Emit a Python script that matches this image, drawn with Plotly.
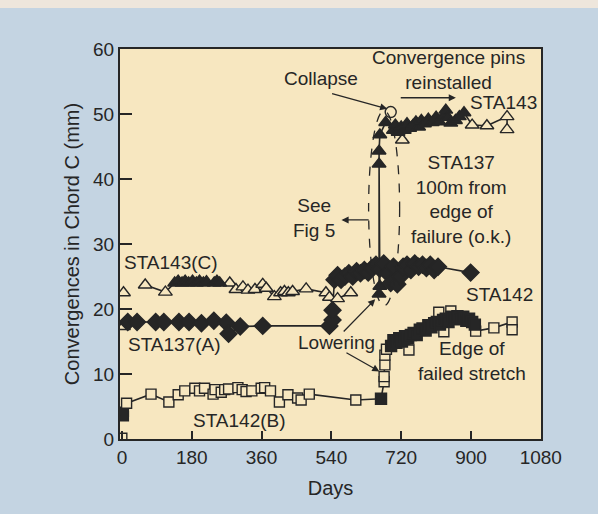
import plotly.graph_objects as go

# ---------------- data (days, convergence mm) ----------------
# STA143 (C) - triangles
sta143_init_days = [4, 4]
sta143_init_vals = [22.5, 17.3]
sta143_open_days = [60, 112, 278, 294, 312, 325, 343, 363, 372, 393, 409, 419, 429, 440, 475, 526, 535, 556, 590]
sta143_open_vals = [23.7, 22.6, 24.0, 23.0, 23.4, 22.9, 23.0, 23.8, 23.2, 21.9, 22.5, 22.7, 22.5, 22.7, 23.1, 22.5, 21.8, 21.6, 22.5]
sta143_fill_days = [136, 145, 155, 163, 172, 182, 192, 200, 210, 218, 238, 245, 252]
sta143_fill_vals = [24.0, 24.3, 24.0, 24.3, 24.0, 24.3, 24.0, 24.3, 24.0, 24.2, 24.0, 24.3, 24.0]
sta143_late_fill_days = [663, 665, 663, 663, 665, 680, 700, 705, 712, 720, 728, 735, 742, 750, 758, 765,
                         772, 780, 790, 800, 810, 818, 828, 835, 840, 848, 860, 870, 882]
sta143_late_fill_vals = [22.3, 23.5, 42.3, 44.3, 46.8, 48.7, 47.5, 48.3, 47.2, 48.0, 47.5, 48.5, 47.8, 48.2, 48.8, 48.0,
                         49.0, 48.5, 49.2, 48.7, 49.5, 48.8, 49.6, 50.6, 49.5, 48.6, 49.0, 49.6, 50.2]
sta143_late_open_days = [723, 903, 941, 993, 993]
sta143_late_open_vals = [46.0, 48.3, 48.2, 49.6, 47.6]

# STA137 (A) - filled diamonds
sta137_days = [15, 39, 87, 108, 147, 173, 205, 237, 269, 275, 305, 363, 535, 543, 543]
sta137_vals = [18.0, 18.0, 18.0, 18.0, 18.0, 18.0, 17.8, 18.2, 17.9, 16.2, 17.3, 17.4, 17.4, 18.3, 19.8]
sta137_late_days = [548, 556, 565, 575, 585, 595, 605, 615, 625, 635, 645, 655, 665, 675, 685, 693, 700,
                    710, 718, 725, 735, 745, 755, 765, 775, 785, 795, 805, 815, 899]
sta137_late_vals = [24.5, 25.2, 24.5, 25.0, 25.5, 25.0, 25.8, 25.5, 26.0, 25.6, 26.3, 26.8, 26.2, 27.0, 25.5, 24.0, 26.5,
                    23.8, 25.0, 26.5, 26.8, 26.0, 27.0, 26.5, 26.8, 26.3, 26.8, 26.0, 26.5, 25.6]

# STA142 (B) - squares
sta142_init_days = [1, 5, 5]
sta142_init_vals = [0.2, 3.5, 4.2]
sta142_open_days = [12, 75, 121, 145, 162, 188, 200, 213, 235, 240, 256, 265, 275, 299, 310, 320, 335, 359,
                    368, 383, 406, 428, 453, 462, 483, 603]
sta142_open_vals = [5.5, 6.9, 5.7, 6.8, 7.4, 7.8, 7.4, 7.8, 6.9, 7.6, 7.2, 7.6, 7.7, 7.9, 7.6, 7.3, 7.4, 7.8,
                    7.9, 7.4, 5.7, 6.8, 6.3, 6.0, 6.9, 6.0]
sta142_late_fill_days = [668, 694, 700, 708, 715, 722, 730, 738, 745, 752, 760, 768, 775, 783, 790, 798, 805,
                         812, 820, 828, 835, 842, 850, 858, 865, 873, 880, 888, 895, 903, 910]
sta142_late_fill_vals = [6.2, 14.3, 15.2, 14.8, 15.5, 15.0, 15.8, 15.5, 16.0, 16.3, 16.0, 16.8, 17.0, 16.7, 17.5, 17.2, 17.8,
                         18.0, 17.6, 18.3, 18.5, 18.0, 18.8, 18.5, 18.9, 18.4, 18.8, 18.2, 18.5, 18.0, 17.6]
sta142_late_open_days = [676, 676, 678, 678, 682, 740, 817, 830, 848, 912, 959, 1006, 1006]
sta142_late_open_vals = [8.8, 9.6, 11.4, 12.9, 13.8, 13.7, 19.5, 16.5, 19.7, 16.6, 17.1, 18.0, 16.8]

collapse_day = [693]
collapse_val = [50.3]

x_ticks = [0, 180, 360, 540, 720, 900, 1080]
y_ticks = [0, 10, 20, 30, 40, 50, 60]

# ---------------- styling ----------------
INK = "#262626"
FONT = "Liberation Sans, Arial, Helvetica, sans-serif"
fig = go.Figure()


def line_trace(days, vals):
    pts = sorted(zip(days, vals), key=lambda p: p[0])
    fig.add_trace(go.Scatter(x=[p[0] for p in pts], y=[p[1] for p in pts], mode="lines",
                             line=dict(color=INK, width=1.6), hoverinfo="skip", showlegend=False))


def marker_trace(days, vals, symbol, size, filled):
    fig.add_trace(go.Scatter(
        x=days, y=vals, mode="markers", showlegend=False,
        marker=dict(symbol=symbol, size=size,
                    color=INK if filled else "#f7e7c0",
                    line=dict(color=INK, width=1.4))))


# connecting lines
line_trace(sta143_open_days + sta143_fill_days, sta143_open_vals + sta143_fill_vals)
line_trace(sta143_late_fill_days[2:] + sta143_late_open_days[1:], sta143_late_fill_vals[2:] + sta143_late_open_vals[1:])
line_trace(sta143_late_fill_days[:3], sta143_late_fill_vals[:3])
line_trace(sta137_days + sta137_late_days, sta137_vals + sta137_late_vals)
line_trace(sta142_open_days, sta142_open_vals)
line_trace(sta142_late_fill_days + sta142_late_open_days, sta142_late_fill_vals + sta142_late_open_vals)
fig.add_trace(go.Scatter(x=[sta142_open_days[-1], sta142_late_fill_days[0]],
                         y=[sta142_open_vals[-1], sta142_late_fill_vals[0]], mode="lines",
                         line=dict(color=INK, width=1.6), hoverinfo="skip", showlegend=False))

# markers
marker_trace(sta143_init_days, sta143_init_vals, "triangle-up", 12, False)
marker_trace(sta143_open_days, sta143_open_vals, "triangle-up", 12, False)
marker_trace(sta143_fill_days, sta143_fill_vals, "triangle-up", 12, True)
marker_trace(sta143_late_open_days, sta143_late_open_vals, "triangle-up", 12, False)
marker_trace(sta143_late_fill_days, sta143_late_fill_vals, "triangle-up", 12, True)
marker_trace(sta137_days + sta137_late_days, sta137_vals + sta137_late_vals, "diamond", 13, True)
marker_trace(sta142_init_days[:1], sta142_init_vals[:1], "square", 9, False)
marker_trace(sta142_init_days[1:], sta142_init_vals[1:], "square", 9, True)
marker_trace(sta142_open_days, sta142_open_vals, "square", 10, False)
marker_trace(sta142_late_open_days, sta142_late_open_vals, "square", 10, False)
marker_trace(sta142_late_fill_days, sta142_late_fill_vals, "square", 11, True)
marker_trace(collapse_day, collapse_val, "circle", 11, False)

# dashed ellipse around the jump
fig.add_shape(type="circle", xref="x", yref="y", x0=636, x1=716, y0=20.5, y1=50.5,
              line=dict(color=INK, width=1.3, dash="dash"))

# top paper strip of the scan
fig.add_shape(type="rect", xref="paper", yref="paper", x0=-0.3, x1=1.2, y0=1.105, y1=1.2,
              fillcolor="#eee6dc", line=dict(width=0), layer="below")

tf = dict(family=FONT, size=19, color=INK)


def label(x, y, text, **kw):
    fig.add_annotation(x=x, y=y, xref="x", yref="y", text=text, showarrow=False, font=tf, **kw)


def arrow(x0, y0, x1, y1):
    fig.add_annotation(x=x1, y=y1, ax=x0, ay=y0, xref="x", yref="y", axref="x", ayref="y",
                       text="", showarrow=True, arrowhead=2, arrowsize=1.1, arrowwidth=1.3, arrowcolor=INK)


label(514, 55.5, "Collapse")
arrow(538, 53.2, 684, 50.8)
label(843, 56.8, "Convergence pins<br>reinstalled")
arrow(715, 52.5, 861, 52.5)
label(985, 51.8, "STA143")
label(874, 36.9, "STA137<br>100m from<br>edge of<br>failure (o.k.)")
label(494, 34.0, "See<br>Fig 5")
arrow(640, 33.7, 566, 33.7)
label(126, 27.2, "STA143(C)")
label(136, 14.5, "STA137(A)")
label(303, 2.9, "STA142(B)")
label(553, 14.9, "Lowering")
arrow(568, 16.3, 653, 21.5)
arrow(575, 13.4, 664, 10.4)
label(974, 22.3, "STA142")
label(902, 12.0, "Edge of<br>failed stretch")

axis_common = dict(showgrid=False, zeroline=False, showline=True, linecolor=INK, linewidth=2,
                   mirror=True, ticks="inside", tickcolor=INK, tickwidth=1.5,
                   tickfont=dict(family=FONT, size=19, color=INK))

fig.update_xaxes(range=[-5, 1080.5], tickvals=x_ticks, ticklen=8,
                 title=dict(text="Days", font=dict(family=FONT, size=20, color=INK), standoff=14),
                 **axis_common)
fig.update_yaxes(range=[0, 60], tickvals=y_ticks, ticklen=12,
                 title=dict(text="Convergences in Chord C (mm)", font=dict(family=FONT, size=20, color=INK),
                            standoff=8),
                 **axis_common)

fig.update_layout(width=598, height=514, margin=dict(l=120, r=57, t=49, b=75),
                  paper_bgcolor="#c4d4e2", plot_bgcolor="#f7e7c0", showlegend=False,
                  font=dict(family=FONT, color=INK))

fig.write_html("out.html")
